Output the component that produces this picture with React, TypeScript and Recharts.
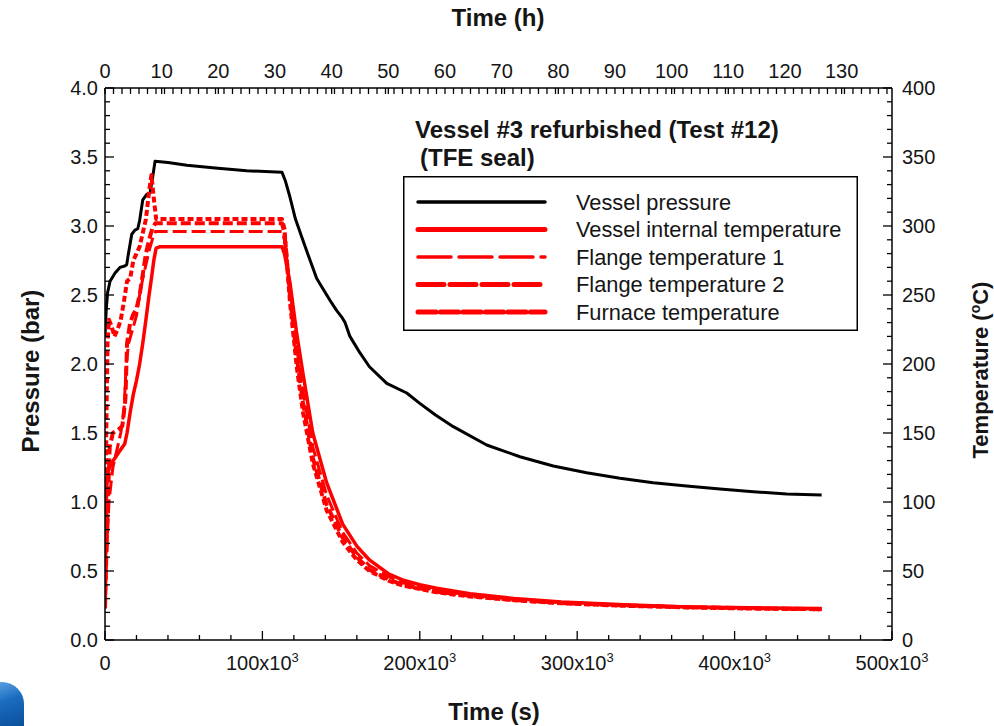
import React from 'react';
import { ComposedChart, Line, XAxis, YAxis, Legend } from 'recharts';

// ---------- DATA ----------
const pressureTimeS = [0, 800, 1700, 3200, 6400, 9500, 12500, 13800, 14600, 17000, 19000, 20800, 22000, 24000, 26500, 28600, 30500, 31800, 40000, 52000, 70000, 90000, 112400, 114500, 117500, 121000, 125000, 130000, 134500, 143000, 147000, 150400, 152500, 155600, 162000, 168000, 179000, 191700, 200000, 210000, 221300, 242500, 263600, 284800, 306000, 327200, 348300, 369500, 390700, 411900, 433100, 455300];
const pressureBar = [2.2, 2.4, 2.52, 2.6, 2.66, 2.7, 2.71, 2.72, 2.78, 2.94, 2.97, 2.98, 3.04, 3.19, 3.23, 3.24, 3.37, 3.47, 3.46, 3.44, 3.42, 3.4, 3.39, 3.33, 3.21, 3.05, 2.92, 2.76, 2.62, 2.46, 2.39, 2.34, 2.3, 2.2, 2.08, 1.98, 1.86, 1.79, 1.715, 1.63, 1.546, 1.413, 1.328, 1.261, 1.212, 1.172, 1.14, 1.116, 1.094, 1.075, 1.058, 1.05];

const vesselTempTimeS = [0, 400, 1000, 2000, 4000, 7000, 10000, 12500, 14000, 16000, 18000, 20000, 22000, 24000, 26000, 28000, 29500, 31000, 32500, 35000, 60000, 90000, 112400, 114000, 117500, 121800, 125800, 132000, 140800, 151000, 160000, 168000, 180000, 189000, 200000, 210700, 232000, 260000, 290000, 330000, 370000, 410000, 455300];
const vesselTempC = [23, 70, 110, 122, 128, 133, 138, 142, 150, 165, 178, 188, 200, 215, 232, 250, 262, 275, 284, 285, 285, 285, 285, 280, 259, 222, 193, 150, 114, 84, 68, 58, 48, 43.5, 40, 37.5, 33.5, 30, 27.5, 25.5, 24, 23.3, 22.8];

const flange1TimeS = [0, 1000, 2500, 5000, 8000, 10000, 12000, 13500, 15000, 17500, 20000, 22000, 24000, 26000, 28000, 30000, 32000, 40000, 70000, 112400, 114000, 117500, 121800, 125800, 132000, 140800, 151000, 160000, 168000, 180000, 189000, 200000, 210700, 232000, 260000, 290000, 330000, 370000, 410000, 455300];
const flange1TempC = [23, 60, 100, 125, 140, 150, 165, 200, 215, 225, 235, 250, 262, 272, 282, 290, 296, 296, 296, 296, 290, 255, 212, 180, 140, 105, 78, 63, 54, 46, 41.5, 38.5, 36, 32.5, 29.5, 27, 25, 23.8, 23, 22.5];

const flange2TimeS = [0, 1500, 3000, 5000, 8000, 11000, 13000, 14000, 16000, 18000, 20000, 22000, 24000, 26000, 28000, 30000, 32000, 40000, 70000, 112400, 114000, 117500, 121800, 125800, 132000, 140800, 151000, 160000, 168000, 180000, 189000, 200000, 210700, 232000, 260000, 290000, 330000, 370000, 410000, 455300];
const flange2TempC = [23, 90, 140, 150, 152, 155, 175, 215, 230, 236, 240, 250, 265, 280, 290, 298, 302, 302, 302, 302, 295, 250, 205, 172, 132, 98, 74, 60, 51, 44, 40, 37.5, 35, 32, 29, 26.8, 25, 23.8, 23, 22.3];

const furnaceTimeS = [0, 800, 1600, 2500, 4000, 6000, 8000, 10000, 12000, 14000, 16000, 18000, 20000, 22000, 24000, 26000, 28000, 29500, 31000, 32500, 36000, 70000, 112400, 114000, 117500, 121800, 125800, 132000, 140800, 151000, 160000, 168000, 180000, 189000, 200000, 210700, 232000, 260000, 290000, 330000, 370000, 410000, 455300];
const furnaceTempC = [23, 150, 215, 232, 228, 220, 225, 232, 245, 260, 262, 275, 280, 285, 295, 305, 325, 337, 320, 305, 305, 305, 305, 298, 245, 198, 165, 128, 94, 71, 58, 50, 43, 39.5, 37, 34.5, 31.5, 28.8, 26.6, 24.8, 23.6, 22.8, 22.3];

const seriesNames = ['Vessel pressure', 'Vessel internal temperature', 'Flange temperature 1', 'Flange temperature 2', 'Furnace temperature'];

const bottomMajorTicks = [0, 100000, 200000, 300000, 400000, 500000];
const hourLabels = [0, 10, 20, 30, 40, 50, 60, 70, 80, 90, 100, 110, 120, 130];

// ---------- LAYOUT ----------
const W = 994;
const H = 726;
const PLOT = { left: 105, right: 892, top: 88, bottom: 640 };
const FONT = '"Liberation Sans", Arial, sans-serif';
const TXT = '#151515';

const zip = (ts: number[], vs: number[]) => ts.map((t, i) => ({ t, v: vs[i] }));
const pressureData = zip(pressureTimeS, pressureBar);
const vesselData = zip(vesselTempTimeS, vesselTempC);
const flange1Data = zip(flange1TimeS, flange1TempC);
const flange2Data = zip(flange2TimeS, flange2TempC);
const furnaceData = zip(furnaceTimeS, furnaceTempC);

const bottomTicks = Array.from({ length: 26 }, (_, i) => i * 20000);
const topMinor = Array.from({ length: 93 }, (_, i) => i * 5400);
const topTicks = Array.from(new Set([...topMinor, ...hourLabels.map((h) => h * 3600)])).sort((a, b) => a - b);
const leftTicks = Array.from({ length: 41 }, (_, i) => i / 10);
const rightTicks = Array.from({ length: 41 }, (_, i) => i * 10);

const legendStyles = [
  { color: '#000000', width: 3.5, dash: undefined as string | undefined },
  { color: '#ff0000', width: 5, dash: undefined },
  { color: '#ff0000', width: 3.5, dash: '33 8' },
  { color: '#ff0000', width: 5, dash: '26 6' },
  { color: '#ff0000', width: 5, dash: '18 4.5' },
];

const BottomTick = (props: any) => {
  const { x, payload } = props;
  const v = payload.value as number;
  const major = bottomMajorTicks.includes(v);
  const y = PLOT.bottom;
  return (
    <g>
      <line x1={x} x2={x} y1={y} y2={y - (major ? 9 : 5)} stroke="#000" strokeWidth={1.3} />
      {major && (
        <text x={x} y={y + 23} dy="0.35em" textAnchor="middle" fontSize={20} fill={TXT} fontFamily={FONT}>
          {v === 0 ? '0' : (
            <>
              {`${v / 1000}x10`}
              <tspan dy={-8} fontSize={13}>3</tspan>
            </>
          )}
        </text>
      )}
    </g>
  );
};

const TopTick = (props: any) => {
  const { x, payload } = props;
  const v = payload.value as number;
  const h = v / 3600;
  const isLabel = hourLabels.some((l) => Math.abs(l - h) < 1e-6);
  const y = PLOT.top;
  return (
    <g>
      <line x1={x} x2={x} y1={y} y2={y + 6} stroke="#000" strokeWidth={1.3} />
      {isLabel && (
        <text x={x} y={y - 17} dy="0.35em" textAnchor="middle" fontSize={20} fill={TXT} fontFamily={FONT}>
          {Math.round(h)}
        </text>
      )}
    </g>
  );
};

const LeftTick = (props: any) => {
  const { y, payload } = props;
  const v = payload.value as number;
  const major = Math.round(v * 10) % 5 === 0;
  const x = PLOT.left;
  return (
    <g>
      <line x1={x} x2={x + (major ? 9 : 5)} y1={y} y2={y} stroke="#000" strokeWidth={1.3} />
      {major && (
        <text x={x - 7} y={y} dy="0.35em" textAnchor="end" fontSize={20} fill={TXT} fontFamily={FONT}>
          {v.toFixed(1)}
        </text>
      )}
    </g>
  );
};

const RightTick = (props: any) => {
  const { y, payload } = props;
  const v = payload.value as number;
  const major = Math.round(v) % 50 === 0;
  const x = PLOT.right;
  return (
    <g>
      <line x1={x} x2={x - (major ? 9 : 5)} y1={y} y2={y} stroke="#000" strokeWidth={1.3} />
      {major && (
        <text x={x + 10} y={y} dy="0.35em" textAnchor="start" fontSize={20} fill={TXT} fontFamily={FONT}>
          {Math.round(v)}
        </text>
      )}
    </g>
  );
};

const renderLegend = () => (
  <svg width={455} height={155} style={{ display: 'block' }}>
    <rect x={0.75} y={0.75} width={453.5} height={153.5} fill="#ffffff" stroke="#000" strokeWidth={1.5} />
    {seriesNames.map((name, i) => {
      const cy = 26 + i * 27.5;
      const s = legendStyles[i];
      return (
        <g key={name}>
          <line x1={15} x2={142} y1={cy} y2={cy} stroke={s.color} strokeWidth={s.width} strokeDasharray={s.dash} strokeLinecap="round" />
          <text x={173} y={cy} dy="0.35em" fontSize={21.8} fill={TXT} fontFamily={FONT}>{name}</text>
        </g>
      );
    })}
  </svg>
);

export default function App() {
  return (
    <div style={{ position: 'absolute', left: 0, top: 0, width: W, height: H, background: '#fff', overflow: 'hidden' }}>
      <ComposedChart width={W} height={H} margin={{ top: 48, right: 42, bottom: 46, left: 45 }}>
        <XAxis
          xAxisId="bottom"
          type="number"
          dataKey="t"
          domain={[0, 500000]}
          ticks={bottomTicks}
          interval={0}
          allowDataOverflow
          height={40}
          axisLine={{ stroke: '#000', strokeWidth: 1.5 }}
          tickLine={false}
          tickSize={0}
          tickMargin={0}
          tick={BottomTick}
        />
        <XAxis
          xAxisId="top"
          orientation="top"
          type="number"
          dataKey="t"
          domain={[0, 500000]}
          ticks={topTicks}
          interval={0}
          allowDataOverflow
          height={40}
          axisLine={{ stroke: '#000', strokeWidth: 1.5 }}
          tickLine={false}
          tickSize={0}
          tickMargin={0}
          tick={TopTick}
        />
        <YAxis
          yAxisId="left"
          type="number"
          domain={[0, 4]}
          ticks={leftTicks}
          interval={0}
          allowDataOverflow
          width={60}
          axisLine={{ stroke: '#000', strokeWidth: 1.5 }}
          tickLine={false}
          tickSize={0}
          tickMargin={0}
          tick={LeftTick}
        />
        <YAxis
          yAxisId="right"
          orientation="right"
          type="number"
          domain={[0, 400]}
          ticks={rightTicks}
          interval={0}
          allowDataOverflow
          width={60}
          axisLine={{ stroke: '#000', strokeWidth: 1.5 }}
          tickLine={false}
          tickSize={0}
          tickMargin={0}
          tick={RightTick}
        />
        <Legend
          layout="vertical"
          align="center"
          verticalAlign="middle"
          content={renderLegend}
          wrapperStyle={{ position: 'absolute', left: 403, top: 176, width: 455, height: 155 }}
        />
        <Line data={pressureData} xAxisId="bottom" yAxisId="left" dataKey="v" name={seriesNames[0]} type="linear" stroke="#000" strokeWidth={3} dot={false} isAnimationActive={false} strokeLinejoin="round" />
        <Line data={vesselData} xAxisId="bottom" yAxisId="right" dataKey="v" name={seriesNames[1]} type="linear" stroke="#ff0000" strokeWidth={3.5} dot={false} isAnimationActive={false} strokeLinejoin="round" />
        <Line data={flange1Data} xAxisId="bottom" yAxisId="right" dataKey="v" name={seriesNames[2]} type="linear" stroke="#ff0000" strokeWidth={3} strokeDasharray="14 5" dot={false} isAnimationActive={false} strokeLinejoin="round" />
        <Line data={flange2Data} xAxisId="bottom" yAxisId="right" dataKey="v" name={seriesNames[3]} type="linear" stroke="#ff0000" strokeWidth={4} strokeDasharray="10 4" dot={false} isAnimationActive={false} strokeLinejoin="round" />
        <Line data={furnaceData} xAxisId="bottom" yAxisId="right" dataKey="v" name={seriesNames[4]} type="linear" stroke="#ff0000" strokeWidth={4} strokeDasharray="6 3" dot={false} isAnimationActive={false} strokeLinejoin="round" />
      </ComposedChart>
      <svg width={W} height={H} style={{ position: 'absolute', left: 0, top: 0, pointerEvents: 'none' }}>
        <g fontFamily={FONT} fontWeight="bold" fill={TXT} fontSize={24}>
          <text x={498} y={18} dy="0.35em" textAnchor="middle">Time (h)</text>
          <text x={494} y={712} dy="0.35em" textAnchor="middle">Time (s)</text>
          <text x={31} y={371} dy="0.35em" textAnchor="middle" transform="rotate(-90 31 371)">Pressure (bar)</text>
          <text x={980} y={370} dy="0.35em" textAnchor="middle" fontSize={22} transform="rotate(-90 980 370)">
            Temperature (<tspan dy={-8} fontSize={14}>o</tspan><tspan dy={8}>C)</tspan>
          </text>
          <text x={415} y={130} dy="0.35em" textAnchor="start">Vessel #3 refurbished (Test #12)</text>
          <text x={420} y={158} dy="0.35em" textAnchor="start">(TFE seal)</text>
        </g>
      </svg>
      <div style={{ position: 'absolute', left: 0, top: 682, width: 24, height: 44, background: 'linear-gradient(160deg, #5aa0e0 0%, #1a6cc0 40%, #0a4f9a 100%)', borderTopRightRadius: 22 }} />
    </div>
  );
}
